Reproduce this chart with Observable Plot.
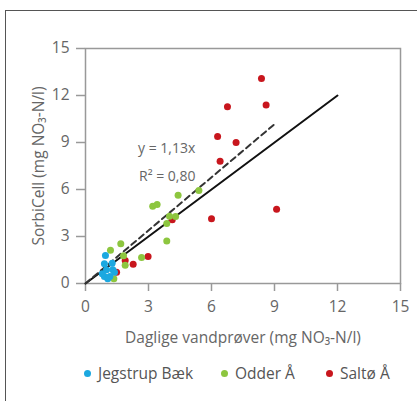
<!DOCTYPE html>
<html>
<head>
<meta charset="utf-8">
<script src="https://cdn.jsdelivr.net/npm/d3@7"></script>
<script src="https://cdn.jsdelivr.net/npm/@observablehq/plot@0.6"></script>
<style>
  html, body { margin: 0; padding: 0; background: #fff; width: 417px; height: 401px; overflow: hidden; position: relative; font-family: "Open Sans", "Noto Sans", sans-serif; }
  #frame { position: absolute; left: 5px; top: 10px; width: 420px; height: 400px; border-top: 1.5px solid #555; border-left: 1.5px solid #555; }
  #chart { position: absolute; left: 0; top: 0; }
  .item { position: absolute; top: 362px; display: flex; align-items: center; font-size: 15.5px; color: #555; white-space: nowrap; }
  .sw { width: 7px; height: 7px; border-radius: 50%; display: inline-block; margin-right: 7px; }
</style>
</head>
<body>
<div id="frame"></div>
<div id="chart"></div>
<div id="legend"></div>
<script>
// Series (x = Daglige vandprøver, y = SorbiCell), mg NO3-N/l
const seriesNames = ["Jegstrup Bæk", "Odder Å", "Saltø Å"];
const seriesColors = ["#1ba8e0", "#8dc63f", "#c8161d"];

const jegstrupX = [0.95, 0.90, 1.27, 1.00, 1.30, 0.90, 1.16, 1.38, 1.06, 0.80];
const jegstrupY = [1.79, 1.26, 1.30, 0.87, 0.87, 0.45, 0.45, 0.72, 0.30, 0.62];

const odderX = [5.40, 4.41, 3.20, 3.41, 4.00, 4.29, 3.87, 3.87, 2.67, 1.68, 1.19, 1.81, 1.89, 1.35];
const odderY = [5.93, 5.64, 4.93, 5.04, 4.30, 4.28, 3.83, 2.72, 1.66, 2.53, 2.13, 1.77, 1.17, 0.30];

const saltoX = [8.38, 8.60, 6.76, 6.29, 7.17, 6.41, 9.10, 6.00, 2.98, 2.27, 1.89, 4.13, 1.48];
const saltoY = [13.08, 11.40, 11.28, 9.38, 9.00, 7.81, 4.74, 4.13, 1.72, 1.23, 1.47, 4.07, 0.72];

// 1:1 line and regression line (y = 1,13x)
const oneToOneX = [0, 12];
const oneToOneY = [0, 12];
const fitX = [0, 9.1];
const fitY = [0, 10.28];

const tickValues = [0, 3, 6, 9, 12, 15];
const annotationText = ["y = 1,13x", "R² = 0,80"];
const annotationX = [2.5, 2.55];
const annotationY = [8.6, 6.8];

const toPts = (xs, ys, s) => xs.map((x, i) => ({x, y: ys[i], s}));
const salto = toPts(saltoX, saltoY, seriesNames[2]);
const odder = toPts(odderX, odderY, seriesNames[1]);
const jeg = toPts(jegstrupX, jegstrupY, seriesNames[0]);
const line1 = toPts(oneToOneX, oneToOneY);
const fit = toPts(fitX, fitY);
const ann = annotationText.map((t, i) => ({t, x: annotationX[i], y: annotationY[i]}));

const plot = Plot.plot({
  width: 417,
  height: 350,
  marginLeft: 85,
  marginRight: 17,
  marginTop: 48,
  marginBottom: 67,
  style: {fontFamily: "'Open Sans', 'Noto Sans', sans-serif", fontSize: "15px", color: "#666", background: "transparent"},
  x: {domain: [0, 15]},
  y: {domain: [0, 15]},
  color: {domain: seriesNames, range: seriesColors},
  marks: [
    Plot.frame({stroke: "#999", strokeWidth: 1.5}),
    Plot.axisX({ticks: tickValues, tickSize: 8, tickPadding: 9, stroke: "#999", strokeWidth: 1.5, fill: "#666", fontSize: 15.5,
      label: "Daglige vandprøver (mg NO₃-N/l)", labelAnchor: "center", labelArrow: "none", labelOffset: 59}),
    Plot.axisY({ticks: tickValues, tickSize: 9, tickPadding: 7, stroke: "#999", strokeWidth: 1.5, fill: "#666", fontSize: 15.5,
      label: "SorbiCell (mg NO₃-N/l)", labelAnchor: "center", labelArrow: "none", labelOffset: 53}),
    Plot.line(line1, {x: "x", y: "y", stroke: "#111", strokeWidth: 2}),
    Plot.line(fit, {x: "x", y: "y", stroke: "#333", strokeWidth: 2, strokeDasharray: "6,4"}),
    Plot.dot(salto, {x: "x", y: "y", r: 3.5, fill: "s", stroke: null}),
    Plot.dot(odder, {x: "x", y: "y", r: 3.5, fill: "s", stroke: null}),
    Plot.dot(jeg, {x: "x", y: "y", r: 3.5, fill: "s", stroke: null}),
    Plot.text(ann, {x: "x", y: "y", text: "t", textAnchor: "start", fill: "#666", fontSize: 14})
  ]
});
document.getElementById("chart").appendChild(plot);

const legend = document.getElementById("legend");
const itemLeft = [84, 221, 326];
seriesNames.forEach((n, i) => {
  const it = document.createElement("div");
  it.className = "item";
  it.style.left = itemLeft[i] + "px";
  const sw = document.createElement("span");
  sw.className = "sw";
  sw.style.background = seriesColors[i];
  it.appendChild(sw);
  it.appendChild(document.createTextNode(n));
  legend.appendChild(it);
});
</script>
</body>
</html>
